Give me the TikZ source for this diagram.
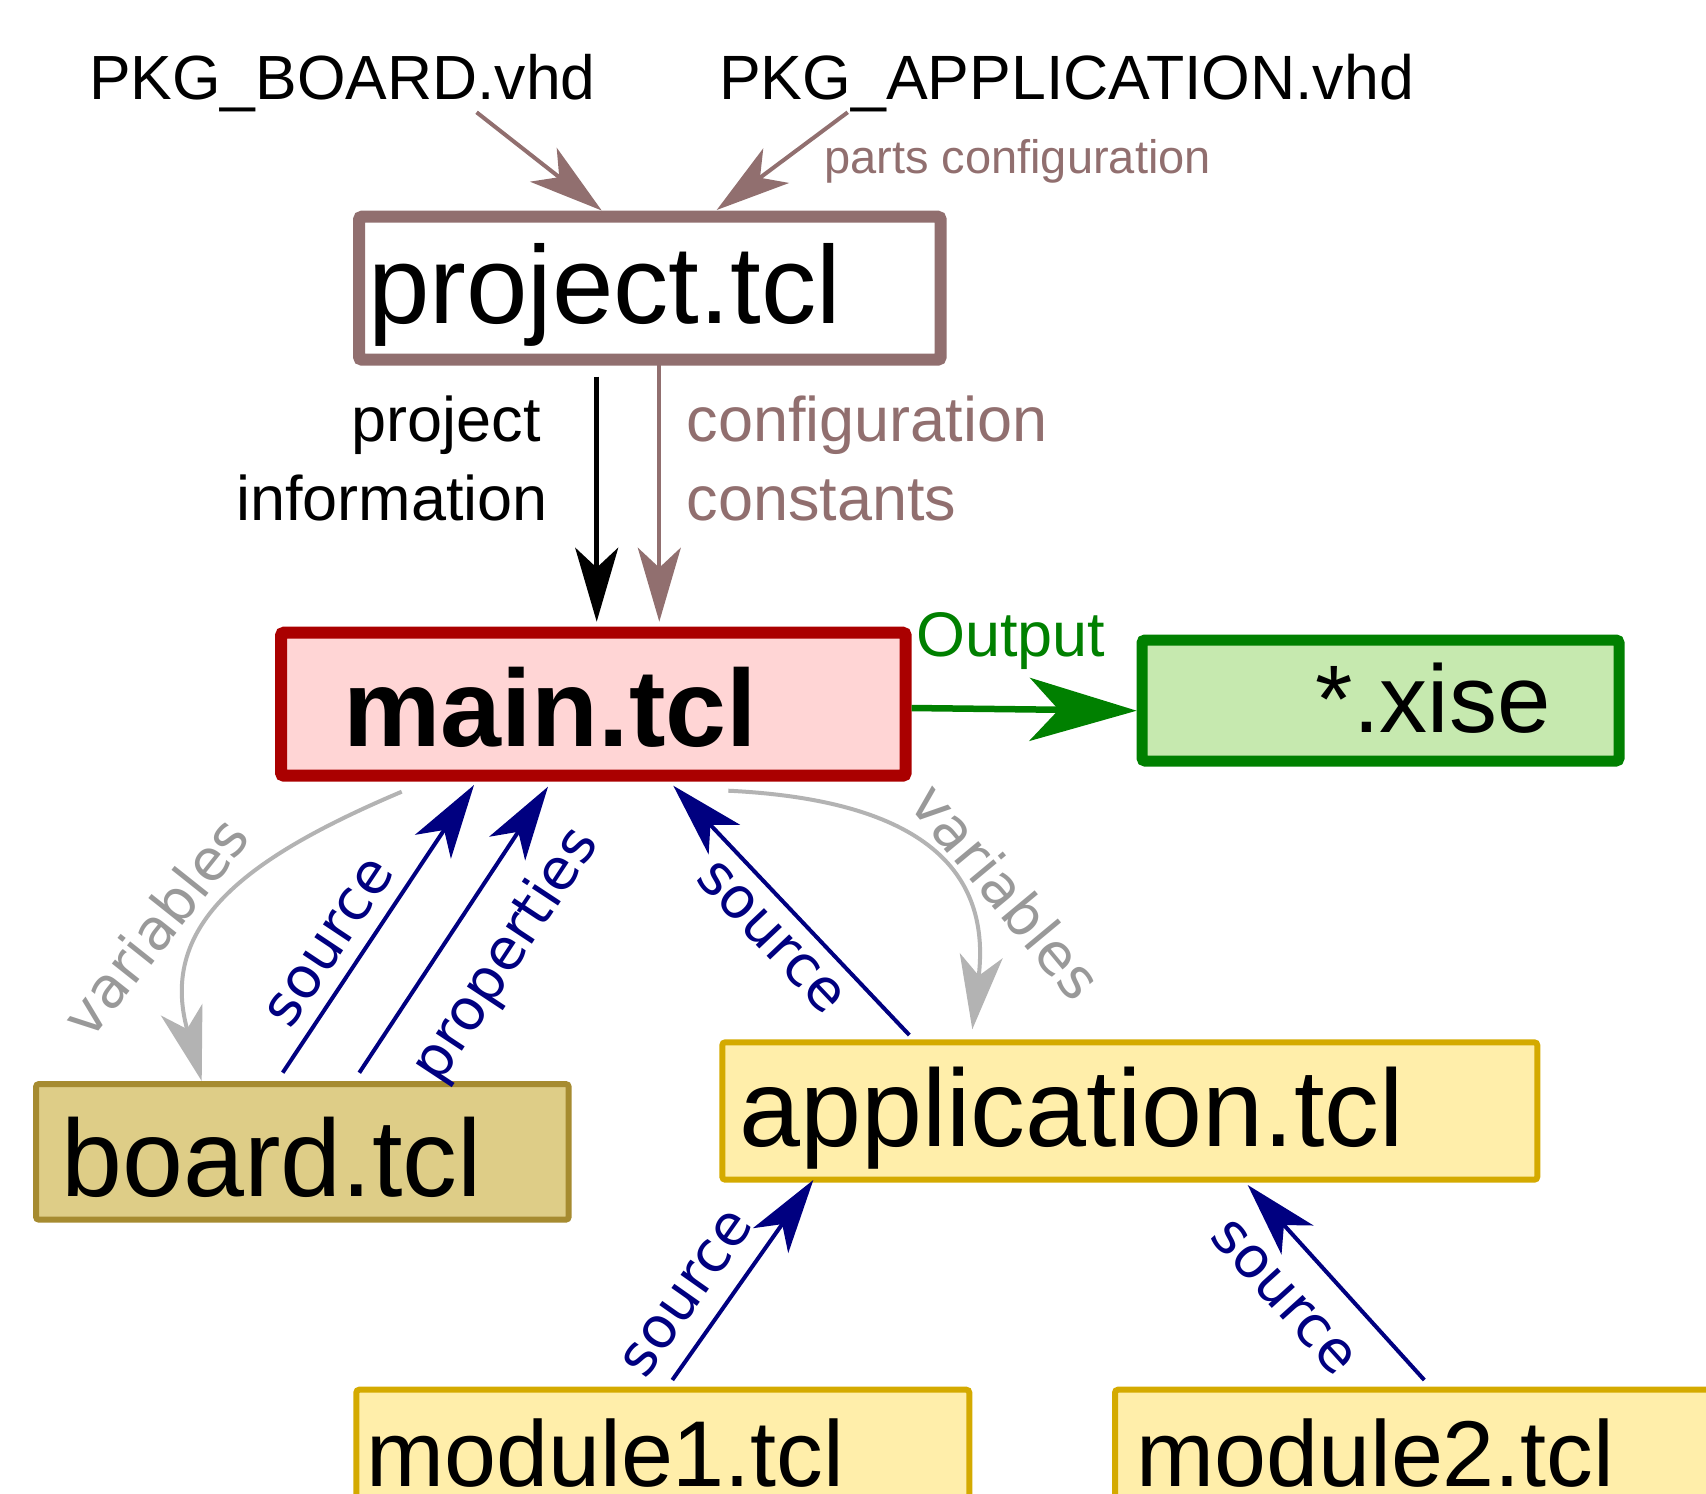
\documentclass[tikz,border=0pt]{standalone}
\usepackage{fontspec}
\setmainfont{Liberation Sans}
\newfontfamily\dejavu{DejaVu Sans}
\usetikzlibrary{arrows.meta}
\definecolor{brn}{HTML}{916F6F}
\definecolor{mainfill}{HTML}{FFD5D5}
\definecolor{mainline}{HTML}{AA0000}
\definecolor{xfill}{HTML}{C6E9AF}
\definecolor{xline}{HTML}{008000}
\definecolor{bfill}{HTML}{DECD87}
\definecolor{bline}{HTML}{A68B30}
\definecolor{yfill}{HTML}{FFEEAA}
\definecolor{yline}{HTML}{D4AA00}
\definecolor{nav}{HTML}{000080}
\definecolor{gline}{HTML}{B3B3B3}
\definecolor{gtext}{HTML}{999999}
\tikzset{
  tbox/.style={rectangle, draw, inner ysep=0pt, outer sep=0pt, rounded corners=3pt, anchor=north west},
  bigtxt/.style={font=\fontsize{110}{132}\selectfont},
  modtxt/.style={font=\fontsize{93.5}{112}\selectfont},
  lab/.style={font=\fontsize{63}{79}\selectfont, inner sep=0pt},
  navlab/.style={text=nav, font=\fontsize{57}{68}\dejavu, inner xsep=0pt},
  varlab/.style={text=gtext, font=\fontsize{57}{68}\dejavu, inner sep=0pt},
  navarr/.style={draw=nav, line width=4pt, -{Stealth[length=74pt,width=43pt,inset=20pt]}},
  brnarr/.style={draw=brn, line width=4pt, -{Stealth[length=74pt,width=43pt,inset=20pt]}},
  blkarr/.style={draw=black, line width=4.5pt, -{Stealth[length=74pt,width=43pt,inset=20pt]}},
  greyarr/.style={draw=gline, line width=4pt, -{Stealth[length=74pt,width=43pt,inset=20pt]}},
  grnarr/.style={draw=xline, line width=6.5pt, -{Stealth[length=107pt,width=63pt,inset=29pt]}}
}
\begin{document}
\begin{tikzpicture}[x=1pt,y=-1pt]
\useasboundingbox (0,0) rectangle (1706,1494);
\clip (0,0) rectangle (1706,1494);

% top file names
\node[inner sep=0pt, anchor=base west, font=\fontsize{62.4}{75}\selectfont] (pkgb) at (88.9,99.3) {PKG\_BOARD.vhd};
\node[inner sep=0pt, anchor=base west, font=\fontsize{62.6}{75}\selectfont] (pkga) at (719,99.3) {PKG\_APPLICATION.vhd};

% boxes
\node[tbox, draw=brn, fill=white, line width=12pt, minimum width=581.7pt, minimum height=143pt,
      text width=563.7pt, align=left, inner xsep=9pt, text height=106.3pt, text depth=36.7pt,
      font=\fontsize{110.5}{132}\selectfont]
      (project) at (359,216.7) {project.tcl};
\node[tbox, draw=mainline, fill=mainfill, line width=12pt, minimum width=624.7pt, minimum height=143pt,
      text width=500.7pt, align=left, inner xsep=62pt, text height=114pt, text depth=29pt,
      font=\fontsize{109.5}{131}\selectfont\bfseries]
      (main) at (281,632.7) {main.tcl};
\node[tbox, draw=xline, fill=xfill, line width=11pt, minimum width=477pt, minimum height=121pt,
      text width=340.4pt, align=right, inner xsep=68.3pt, text height=92.3pt, text depth=28.7pt,
      font=\fontsize{96}{115}\selectfont]
      (xise) at (1142,640) {*.xise};
\node[tbox, draw=bline, fill=bfill, line width=6pt, minimum width=532.7pt, minimum height=135.7pt,
      text width=482.1pt, align=left, inner xsep=25.3pt, text height=112pt, text depth=23.7pt,
      font=\fontsize{109.6}{131}\selectfont]
      (board) at (36,1084) {board.tcl};
\node[tbox, draw=yline, fill=yfill, line width=6pt, minimum width=815pt, minimum height=137.4pt,
      text width=781.2pt, align=left, inner xsep=16.9pt, text height=104.4pt, text depth=33pt,
      font=\fontsize{109.7}{131}\selectfont]
      (app) at (722.3,1042.3) {application.tcl};
\node[tbox, draw=yline, fill=yfill, line width=6pt, minimum width=613pt, minimum height=150pt,
      text width=592.8pt, align=left, inner xsep=10.1pt, text height=97pt, text depth=53pt, modtxt]
      (mod1) at (356.3,1389.7) {module1.tcl};
\node[tbox, draw=yline, fill=yfill, line width=6pt, minimum width=700pt, minimum height=150pt,
      text width=657.2pt, align=left, inner xsep=21.4pt, text height=97pt, text depth=53pt, modtxt]
      (mod2) at (1115,1389.7) {module2.tcl};

% labels
\node[inner sep=0pt, anchor=base west, text=brn, font=\fontsize{47}{56}\selectfont] (parts) at (824,173) {parts configuration};
\node[lab, anchor=base east] (projinfo) at (548,441.7)
  {\begin{tabular}[t]{@{}r@{}}project\hspace*{7pt}\\information\end{tabular}};
\node[lab, anchor=base west, text=brn] (cfgconst) at (686.5,441.7)
  {\begin{tabular}[t]{@{}l@{}}configuration\\constants\end{tabular}};
\node[lab, anchor=base west, text=xline] (output) at (916,656) {Output};
\node[varlab, rotate=51.5] (varl) at (155,926.5) {variables};
\node[varlab, rotate=-50.3] (varr) at (1006.5,891) {variables};

% connectors
\draw[brnarr] ([shift={(387.7,13)}]pkgb.base west) -- ([shift={(242.7,-6.2)}]project.north west);
\draw[brnarr] ([shift={(128.7,13)}]pkga.base west) -- ([shift={(357.7,-6.7)}]project.north west);
\draw[blkarr] ([shift={(237.7,17)}]project.south west) -- ([shift={(315.7,-11)}]main.north west);
\draw[brnarr] ([shift={(300.3,0)}]project.south west) -- ([shift={(378.3,-11)}]main.north west);
\draw[grnarr] ([shift={(6,75.3)}]main.north east) -- ([shift={(-5.3,70.7)}]xise.north west);

\draw[navarr] ([shift={(246.7,-11.3)}]board.north west) --
  node[navlab, sloped, pos=0.389, anchor=south, inner ysep=14pt] (lsrc1) {source}
  ([shift={(193,9.3)}]main.south west);
\draw[navarr] ([shift={(323.3,-11.3)}]board.north west) --
  node[navlab, sloped, pos=0.521, anchor=north, inner ysep=28.8pt] (lprop) {properties}
  ([shift={(267,11)}]main.south west);
\draw[navarr] ([shift={(187,-7.3)}]app.north west) --
  node[navlab, sloped, pos=0.484, anchor=north, inner ysep=15pt] (lsrc2) {source}
  ([shift={(392.3,10)}]main.south west);
\draw[navarr] ([shift={(316,-9.7)}]mod1.north west) --
  node[navlab, sloped, pos=0.324, anchor=south, inner ysep=19pt] (lsrc3) {source}
  ([shift={(91,0.3)}]app.south west);
\draw[navarr] ([shift={(309.3,-9.7)}]mod2.north west) --
  node[navlab, sloped, pos=0.592, anchor=north, inner ysep=30.6pt] (lsrc4) {source}
  ([shift={(525.4,5.3)}]app.south west);

\draw[greyarr] ([shift={(120.7,16)}]main.south west) .. controls +(-151.8,64.4) and +(-44.6,-158.4) .. ([shift={(165.7,-3)}]board.north west);
\draw[greyarr] ([shift={(447.3,15)}]main.south west) .. controls +(185,9) and +(20,-165) .. ([shift={(250,-13)}]app.north west);
\end{tikzpicture}
\end{document}
